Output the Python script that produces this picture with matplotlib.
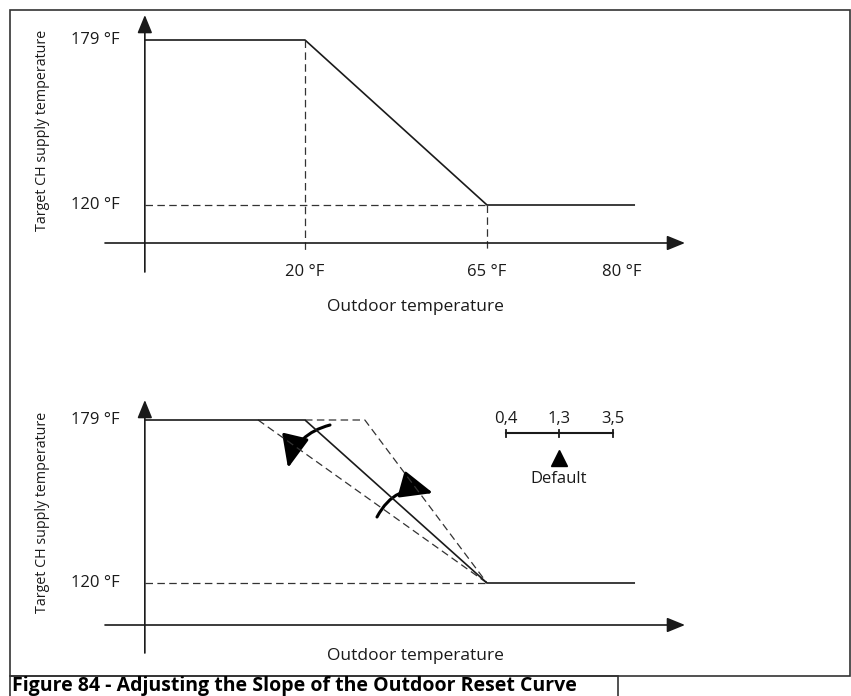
import matplotlib.pyplot as plt
from matplotlib.patches import FancyArrowPatch, Rectangle

plt.rcParams['font.family'] = ['Open Sans', 'DejaVu Sans']

W, H = 851, 696

# reset curve (schematic): outdoor temperature -> target supply temperature
outdoor_temp = [-19.6, 20, 65, 101.6]
supply_temp = [179, 179, 120, 120]
outdoor_ticks = [20, 65, 98.4]
outdoor_labels = ['20 °F', '65 °F', '80 °F']
supply_ticks = [179, 120]
supply_labels = ['179 °F', '120 °F']

# alternative slopes shown dashed in the lower panel
steep_x = [20, 34.8, 65]
steep_y = [179, 179, 120]
shallow_x = [8.4, 65]
shallow_y = [179, 120]

slope_pos = [69.7, 82.8, 96.2]
slope_labels = ['0,4', '1,3', '3,5']
slope_default = 1

KX = 182 / 45  # px per degree along x
INK = '#1a1a1a'


def make_panel(top_px, y179_px, y120_px):
    ky = (y120_px - y179_px) / 59
    bottom_px = top_px + 275
    ax = fig.add_axes([100 / W, 1 - bottom_px / H, 600 / W, 275 / H])
    ax.set_xlim(20 + (100 - 305) / KX, 20 + (700 - 305) / KX)
    ax.set_ylim(120 - (bottom_px - y120_px) / ky, 179 + (y179_px - top_px) / ky)
    ax.axis('off')
    return ax, ky


def draw_axes(ax, ky, xaxis_px, y120_px, ybottom_px, ytip_px):
    x0 = outdoor_temp[0]
    y_x = 120 - (xaxis_px - y120_px) / ky
    head = dict(arrowstyle='-|>,head_length=1.1,head_width=0.45', lw=1.2,
                color=INK, shrinkA=0, shrinkB=0)
    ax.annotate('', xy=(20 + (685 - 305) / KX, y_x),
                xytext=(20 + (105 - 305) / KX, y_x), arrowprops=head)
    ax.annotate('', xy=(x0, 179 + (y120_px - 59 * ky - ytip_px) / ky),
                xytext=(x0, 120 - (ybottom_px - y120_px) / ky), arrowprops=head)
    return y_x


def add_labels(ax, ky, y_x, title_px_offset, ylab_center_px, y179_px):
    for v, lab in zip(supply_ticks, supply_labels):
        ax.text(x0_lab, v, lab, ha='right', va='center', fontsize=12, color=INK)
    ax.text(20 + (42 - 305) / KX, 179 - (ylab_center_px - y179_px) / ky,
            'Target CH supply temperature', rotation=90,
            ha='center', va='center', fontsize=10.3, color=INK)
    ax.text(47.3, y_x - title_px_offset / ky, 'Outdoor temperature',
            ha='center', va='center', fontsize=12.5, color=INK)


fig = plt.figure(figsize=(W / 100, H / 100), dpi=100)
x0_lab = 20 + (120 - 305) / KX

# ---- top panel
ax1, ky1 = make_panel(10, 40, 205)
y_x1 = draw_axes(ax1, ky1, 243, 205, 272, 15)
ax1.plot(outdoor_temp, supply_temp, color=INK, lw=1.2, solid_capstyle='butt')
dash = dict(color='#333333', lw=0.9, linestyle=(0, (6, 3.5)))
tick_bottom = y_x1 - 9 / ky1
ax1.plot([outdoor_temp[1]] * 2, [supply_temp[1], tick_bottom], **dash)
ax1.plot([outdoor_temp[2]] * 2, [supply_temp[2], tick_bottom], **dash)
ax1.plot([outdoor_temp[0], outdoor_temp[2]], [supply_temp[2]] * 2, **dash)
for v, lab in zip(outdoor_ticks, outdoor_labels):
    ax1.text(v, y_x1 - 29 / ky1, lab, ha='center', va='center', fontsize=12, color=INK)
add_labels(ax1, ky1, y_x1, 64, 130, 40)

# ---- bottom panel
ax2, ky2 = make_panel(390, 420, 583)
y_x2 = draw_axes(ax2, ky2, 625, 583, 653, 400)
ax2.plot(steep_x, steep_y, **dash)
ax2.plot(shallow_x, shallow_y, **dash)
ax2.plot([outdoor_temp[0], outdoor_temp[2]], [supply_temp[2]] * 2, **dash)
ax2.plot(outdoor_temp, supply_temp, color=INK, lw=1.2, solid_capstyle='butt')
add_labels(ax2, ky2, y_x2, 31, 512, 420)


# curved arrows showing slope adjustment
def py(p):
    return 179 - (p - 420) / ky2


def px(p):
    return 20 + (p - 305) / KX


for (a, b, rad) in [((330, 425), (288, 468), 0.3), ((377, 517), (433, 493), -0.4)]:
    arr = FancyArrowPatch((px(a[0]), py(a[1])), (px(b[0]), py(b[1])),
                          connectionstyle=f'arc3,rad={rad}',
                          arrowstyle='-|>,head_length=2.0,head_width=0.85',
                          mutation_scale=10, lw=2.2, color='black',
                          shrinkA=0, shrinkB=0)
    ax2.add_patch(arr)

# slope scale
sy = py(433)
ax2.plot([slope_pos[0], slope_pos[-1]], [sy, sy], color=INK, lw=1.5)
for xv, lab in zip(slope_pos, slope_labels):
    ax2.plot([xv, xv], [sy - 3.5 / ky2, sy + 3.5 / ky2], color=INK, lw=1.3)
    ax2.text(xv, py(419), lab, ha='center', va='center', fontsize=12, color=INK)
ax2.plot([slope_pos[slope_default]], [py(458)], marker='^', ms=12,
         color='black', linestyle='none')
ax2.text(slope_pos[slope_default], py(479), 'Default', ha='center', va='center',
         fontsize=12, color=INK)

# frame and caption box
fig.add_artist(Rectangle((10 / W, 1 - 676 / H), 840 / W, 666 / H,
                         transform=fig.transFigure, fill=False,
                         edgecolor='#333333', lw=1.2))
fig.add_artist(Rectangle((10 / W, -0.01), 608 / W, 20 / H + 0.01,
                         transform=fig.transFigure, fill=False,
                         edgecolor='#333333', lw=1.2))
fig.text(12 / W, 1 - 691 / H, 'Figure 84 - Adjusting the Slope of the Outdoor Reset Curve',
         ha='left', va='baseline', fontsize=14, fontweight='bold', color='black')

fig.savefig('out.png', dpi=100)
